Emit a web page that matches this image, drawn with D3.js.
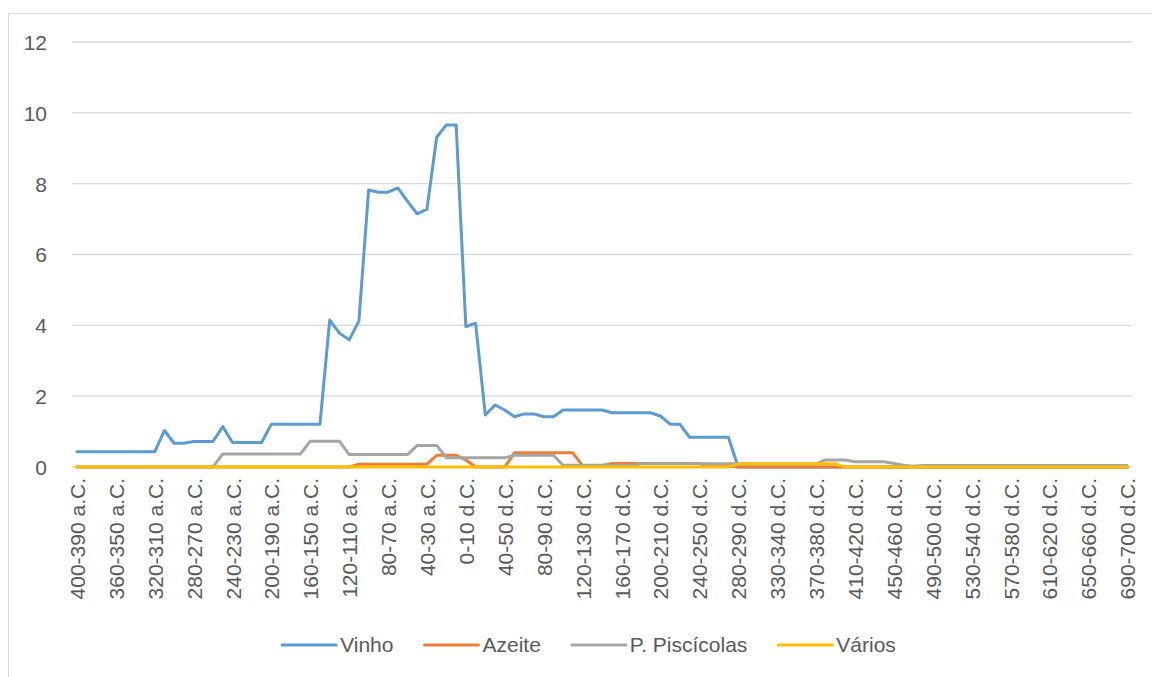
<!DOCTYPE html>
<html>
<head>
<meta charset="utf-8">
<script src="https://cdn.jsdelivr.net/npm/d3@7"></script>
<style>
  html, body { margin: 0; padding: 0; background: #fff; }
  svg { display: block; }
  text { font-family: "Liberation Sans", Arial, sans-serif; fill: #595959; }
</style>
</head>
<body>
<svg id="chart" width="1152" height="677"></svg>
<script>
const categories = [
  "400-390 a.C.","390-380 a.C.","380-370 a.C.","370-360 a.C.","360-350 a.C.","350-340 a.C.","340-330 a.C.","330-320 a.C.",
  "320-310 a.C.","310-300 a.C.","300-290 a.C.","290-280 a.C.","280-270 a.C.","270-260 a.C.","260-250 a.C.","250-240 a.C.",
  "240-230 a.C.","230-220 a.C.","220-210 a.C.","210-200 a.C.","200-190 a.C.","190-180 a.C.","180-170 a.C.","170-160 a.C.",
  "160-150 a.C.","150-140 a.C.","140-130 a.C.","130-120 a.C.","120-110 a.C.","110-100 a.C.","100-90 a.C.","90-80 a.C.",
  "80-70 a.C.","70-60 a.C.","60-50 a.C.","50-40 a.C.","40-30 a.C.","30-20 a.C.","20-10 a.C.","10-0 a.C.",
  "0-10 d.C.","10-20 d.C.","20-30 d.C.","30-40 d.C.","40-50 d.C.","50-60 d.C.","60-70 d.C.","70-80 d.C.",
  "80-90 d.C.","90-100 d.C.","100-110 d.C.","110-120 d.C.","120-130 d.C.","130-140 d.C.","140-150 d.C.","150-160 d.C.",
  "160-170 d.C.","170-180 d.C.","180-190 d.C.","190-200 d.C.","200-210 d.C.","210-220 d.C.","220-230 d.C.","230-240 d.C.",
  "240-250 d.C.","250-260 d.C.","260-270 d.C.","270-280 d.C.","280-290 d.C.","290-300 d.C.","300-310 d.C.","310-330 d.C.",
  "330-340 d.C.","340-350 d.C.","350-360 d.C.","360-370 d.C.","370-380 d.C.","380-390 d.C.","390-400 d.C.","400-410 d.C.",
  "410-420 d.C.","420-430 d.C.","430-440 d.C.","440-450 d.C.","450-460 d.C.","460-470 d.C.","470-480 d.C.","480-490 d.C.",
  "490-500 d.C.","500-510 d.C.","510-520 d.C.","520-530 d.C.","530-540 d.C.","540-550 d.C.","550-560 d.C.","560-570 d.C.",
  "570-580 d.C.","580-590 d.C.","590-600 d.C.","600-610 d.C.","610-620 d.C.","620-630 d.C.","630-640 d.C.","640-650 d.C.",
  "650-660 d.C.","660-670 d.C.","670-680 d.C.","680-690 d.C.","690-700 d.C."
];

const vinho = [
  0.43,0.43,0.43,0.43,0.43,0.43,0.43,0.43,0.43,1.03,
  0.67,0.67,0.72,0.72,0.72,1.14,0.69,0.69,0.69,0.69,
  1.21,1.21,1.21,1.21,1.21,1.21,4.15,3.78,3.59,4.12,
  7.82,7.76,7.76,7.88,7.50,7.15,7.28,9.31,9.66,9.66,
  3.96,4.06,1.47,1.75,1.61,1.42,1.50,1.50,1.42,1.42,
  1.61,1.61,1.61,1.61,1.61,1.53,1.53,1.53,1.53,1.53,
  1.44,1.21,1.21,0.84,0.84,0.84,0.84,0.84,0,0,
  0,0,0,0,0,0,0,0,0,0,
  0,0,0,0,0,0,0,0,0,0,
  0,0,0,0,0,0,0,0,0,0,
  0,0,0,0,0,0,0,0,0
];

const azeite = [
  0,0,0,0,0,0,0,0,0,0,
  0,0,0,0,0,0,0,0,0,0,
  0,0,0,0,0,0,0,0,0,0.08,
  0.08,0.08,0.08,0.08,0.08,0.08,0.08,0.33,0.33,0.33,
  0.20,0,0,0,0,0.40,0.40,0.40,0.40,0.40,
  0.40,0.40,0.04,0.04,0.04,0.10,0.10,0.10,0.10,0.10,
  0.10,0.10,0.10,0.10,0.10,0.03,0.03,0.03,0,0,
  0,0,0,0,0,0,0,0,0,0,
  0,0,0,0,0,0,0,0,0,0,
  0,0,0,0,0,0,0,0,0,0,
  0,0,0,0,0,0,0,0,0
];

const piscicolas = [
  0,0,0,0,0,0,0,0,0,0,
  0,0,0,0,0,0.37,0.37,0.37,0.37,0.37,
  0.37,0.37,0.37,0.37,0.73,0.73,0.73,0.73,0.35,0.35,
  0.35,0.35,0.35,0.35,0.35,0.61,0.61,0.61,0.26,0.26,
  0.26,0.26,0.26,0.26,0.26,0.33,0.33,0.33,0.33,0.33,
  0.05,0.05,0.05,0.05,0.05,0.05,0.05,0.05,0.09,0.09,
  0.09,0.09,0.09,0.09,0.09,0.09,0.09,0.09,0.09,0.09,
  0.09,0.09,0.09,0.09,0.09,0.09,0.09,0.20,0.20,0.20,
  0.15,0.15,0.15,0.15,0.10,0.05,0.02,0.04,0.04,0.04,
  0.04,0.04,0.04,0.04,0.04,0.04,0.04,0.04,0.04,0.04,
  0.04,0.04,0.04,0.04,0.04,0.04,0.04,0.04,0.04
];

const varios = [
  0,0,0,0,0,0,0,0,0,0,
  0,0,0,0,0,0,0,0,0,0,
  0,0,0,0,0,0,0,0,0,0,
  0,0,0,0,0,0,0,0,0,0,
  0,0,0,0,0,0,0,0,0,0,
  0,0,0,0,0,0,0,0,0,0,
  0,0,0,0,0,0,0,0,0.09,0.09,
  0.09,0.09,0.09,0.09,0.09,0.09,0.09,0.09,0.09,0,
  0,0,0,0,0,0,0,0,0,0,
  0,0,0,0,0,0,0,0,0,0,
  0,0,0,0,0,0,0,0,0
];

const seriesNames = ["Vinho", "Azeite", "P. Piscícolas", "Vários"];
const seriesColors = ["#5b9bd5", "#ed7d31", "#a5a5a5", "#ffc000"];
const yTicks = [0, 2, 4, 6, 8, 10, 12];

(function () {
  const seriesData = [vinho, azeite, piscicolas, varios];
  const svg = d3.select("#chart");
  const pLeft = 72, pRight = 1132, pTop = 42, pBottom = 467;
  const fs = "21px";

  // chart border (extends past right/bottom edges as in the reference)
  svg.append("rect")
    .attr("x", 8.5).attr("y", 13.5)
    .attr("width", 1160).attr("height", 680)
    .attr("fill", "none").attr("stroke", "#d9d9d9").attr("stroke-width", 1);

  const x = d3.scalePoint().domain(categories).range([pLeft, pRight]).padding(0.5);
  const y = d3.scaleLinear().domain([0, 12]).range([pBottom, pTop]);

  // gridlines
  svg.append("g").selectAll("line").data(yTicks).join("line")
    .attr("x1", pLeft).attr("x2", pRight)
    .attr("y1", d => y(d)).attr("y2", d => y(d))
    .attr("stroke", "#d9d9d9").attr("stroke-width", 1.3);

  // y axis labels
  const yAxis = d3.axisLeft(y).tickValues(yTicks).tickSize(0).tickPadding(0).tickFormat(d3.format("d"));
  const gy = svg.append("g").attr("transform", "translate(47,0)").call(yAxis);
  gy.select(".domain").remove();
  gy.selectAll("text")
    .style("font-family", '"Liberation Sans", Arial, sans-serif')
    .style("font-size", fs).attr("fill", "#595959").attr("dy", "0.35em");

  // x axis labels
  const xTickVals = categories.filter((d, i) => i % 4 === 0);
  const xAxis = d3.axisBottom(x).tickValues(xTickVals).tickSize(0).tickPadding(0);
  const gx = svg.append("g").attr("transform", `translate(0,${pBottom})`).call(xAxis);
  gx.select(".domain").remove();
  gx.selectAll("text")
    .style("font-family", '"Liberation Sans", Arial, sans-serif')
    .style("font-size", fs).attr("fill", "#595959")
    .attr("text-anchor", "end")
    .attr("transform", "translate(0,11) rotate(-90)")
    .attr("x", 0).attr("y", 0).attr("dy", "0.36em");

  // lines
  const line = d3.line()
    .x((d, i) => x(categories[i]))
    .y(d => y(d));

  svg.append("g").selectAll("path").data(seriesData).join("path")
    .attr("d", d => line(d))
    .attr("fill", "none")
    .attr("stroke", (d, i) => seriesColors[i])
    .attr("stroke-width", 3)
    .attr("stroke-linejoin", "round")
    .attr("stroke-linecap", "round");

  // legend
  const legend = svg.append("g");
  const items = legend.selectAll("g").data(seriesNames).join("g");
  items.append("line")
    .attr("x1", 0).attr("x2", 54).attr("y1", 0).attr("y2", 0)
    .attr("stroke", (d, i) => seriesColors[i]).attr("stroke-width", 3)
    .attr("stroke-linecap", "round");
  items.append("text")
    .attr("x", 58).attr("y", 0).attr("dy", "0.35em")
    .style("font-size", fs)
    .text(d => d);
  const widths = [];
  items.each(function () { widths.push(this.getBBox().width); });
  const gap = 31;
  const total = d3.sum(widths) + gap * (widths.length - 1);
  let cx = 589 - total / 2;
  items.attr("transform", (d, i) => {
    const t = `translate(${cx},645)`;
    cx += widths[i] + gap;
    return t;
  });
})();
</script>
</body>
</html>
